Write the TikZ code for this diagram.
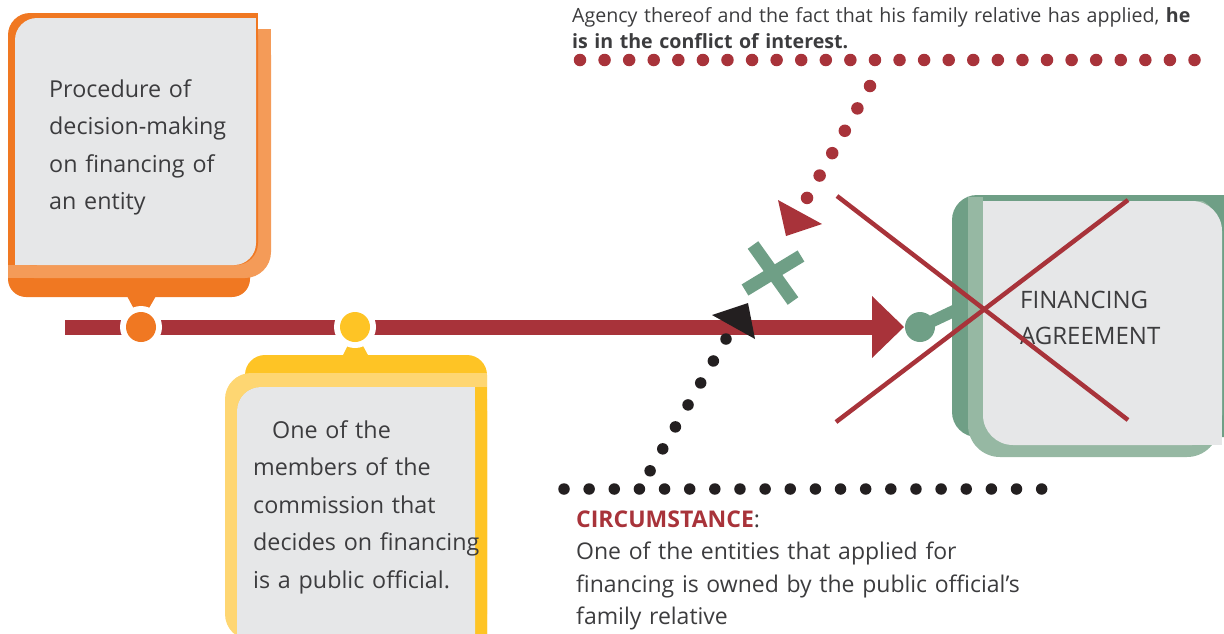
\documentclass[tikz,border=0pt]{standalone}
\usepackage{fontspec}
\setmainfont{Open Sans}
\definecolor{redc}{HTML}{A8333A}
\definecolor{orD}{HTML}{F07822}
\definecolor{orL}{HTML}{F49B58}
\definecolor{yeD}{HTML}{FEC425}
\definecolor{yeL}{HTML}{FED672}
\definecolor{grD}{HTML}{6F9F86}
\definecolor{grL}{HTML}{96B8A3}
\definecolor{boxg}{HTML}{E6E7E8}
\definecolor{txt}{HTML}{3C3C3E}
\definecolor{blk}{HTML}{231F20}
\begin{document}
\begin{tikzpicture}[x=1pt,y=-1pt,
  body/.style={font=\fontsize{23.3}{37.6}\selectfont, text=txt, anchor=base west, inner sep=0pt, align=left, text width=320pt},
  note/.style={font=\fontsize{23}{32.5}\selectfont, text=txt, anchor=base west, inner sep=0pt, align=left, text width=520pt},
  topnote/.style={font=\fontsize{19.6}{26}\selectfont, text=txt, anchor=base west, inner sep=0pt, align=left, text width=700pt},
  reddots/.style={draw=redc, line width=12.5pt, line cap=round},
  blkdots/.style={draw=blk, line width=11.5pt, line cap=round},
  pin/.style={circle, inner sep=0pt, minimum size=30pt},
]
\useasboundingbox (0,0) rectangle (1224,633);

% ---------- orange box ----------
\fill[orD, rounded corners=18] (8,240) rectangle (250,297);
\fill[orD] (127,296) -- (156,296) -- (141,322) -- cycle;
\fill[orL, rounded corners=26] (8,29) rectangle (271,278);
\fill[orL] (8,240) rectangle (40,278);
\fill[orL] (240,29) rectangle (271,60);
\fill[orD, rounded corners=22] (8,13) rectangle (258,265);
\fill[orD] (228,13) rectangle (258,40);
\fill[orD] (8,235) rectangle (30,265);
\fill[boxg, rounded corners=22] (15,18) rectangle (256,265);
\fill[boxg] (226,18) rectangle (256,45);
\fill[boxg] (15,235) rectangle (40,265);
\node[body] (proc) at (49,97) {Procedure of\\decision-making\\on financing of\\an entity};

% ---------- yellow box ----------
\fill[yeD, rounded corners=20] (245,355) rectangle (487,660);
\fill[yeD] (342,357) -- (369,357) -- (355,331) -- cycle;
\fill[yeL, rounded corners=26] (225,373) rectangle (487,640);
\fill[yeL] (457,373) rectangle (487,400);
\fill[yeD, rounded corners=24] (237,387) rectangle (487,660);
\fill[yeD] (457,387) rectangle (487,410);
\fill[boxg, rounded corners=24] (237,387) rectangle (475,660);
\fill[boxg] (445,387) rectangle (475,412);
\node[body] (memb) at (253,438) {\hspace*{19pt}One of the\\members of the\\commission that\\decides on financing\\is a public official.};

% ---------- green box ----------
\fill[grD, rounded corners=25] (952,195) rectangle (1250,437);
\fill[grL, rounded corners=32] (968,197) rectangle (1219,457);
\fill[grL] (968,197) rectangle (990,225);
\fill[grD] (983,195) rectangle (1250,201);
\fill[boxg, rounded corners=30] (983,201) rectangle (1222,445);
\fill[boxg] (983,201) rectangle (1013,231);
\fill[boxg] (1192,415) rectangle (1222,445);
\node[font=\fontsize{24}{36}\selectfont, text=txt, anchor=base west, inner sep=0pt, align=left, text width=200pt] (fin) at (1020,308) {FINANCING\\AGREEMENT};

% ---------- main timeline ----------
\coordinate (lineS) at (65,327);
\coordinate (lineE) at (874,327);
\draw[redc, line width=15pt] (lineS) -- (lineE);
\fill[white] (141,327) circle (21);
\fill[white] (355,327) circle (21);
\fill[redc] (872,296) -- (904,327) -- (872,358) -- cycle;
\node[pin, fill=orD] (po) at (141,327) {};
\node[pin, fill=yeD] (py) at (355,327) {};
\node[pin, fill=grD] (pg) at (920,327) {};
\draw[grD, line width=12pt] (pg.center) -- (958,309);

% ---------- top dotted row and text ----------
\node[topnote] (agency) at (572,22) {Agency thereof and the fact that his family relative has applied, \textbf{he}\\\textbf{is in the conflict of interest.}};
\coordinate (tr1) at (580,60);
\coordinate (tr2) at (1195,60);
\draw[reddots, dash pattern=on 0pt off 24.58pt] (tr1) -- (tr2);

% red dotted diagonal with arrowhead
\coordinate (rd1) at (870,86);
\coordinate (rd2) at (807,198);
\draw[reddots, dash pattern=on 0pt off 25.68pt] (rd1) -- (rd2);
\fill[redc] (778,200) -- (822,224) -- (786,236) -- cycle;

% ---------- green cross ----------
\draw[grD, line width=13pt] (753,245) -- (793,301);
\draw[grD, line width=13pt] (745,290) -- (801,256);

% ---------- bottom dotted row and black diagonal ----------
\coordinate (br1) at (564,489);
\coordinate (br2) at (1042,489);
\draw[blkdots, dash pattern=on 0pt off 25.14pt] (br1) -- (br2);
\coordinate (bd1) at (726,339);
\coordinate (bd2) at (650,471);
\draw[blkdots, dash pattern=on 0pt off 25.35pt] (bd1) -- (bd2);
\fill[blk] (712,315) -- (755,339) -- (748,303) -- cycle;

\node[note] (circ) at (576,527) {\textcolor{redc}{\textbf{CIRCUMSTANCE}}:\\One of the entities that applied for\\financing is owned by the public official’s\\family relative};

% ---------- red X over the agreement ----------
\draw[redc, line width=4.5pt] (837,196) -- (1128,420);
\draw[redc, line width=4.5pt] (1128,200) -- (836,422);
\end{tikzpicture}
\end{document}
